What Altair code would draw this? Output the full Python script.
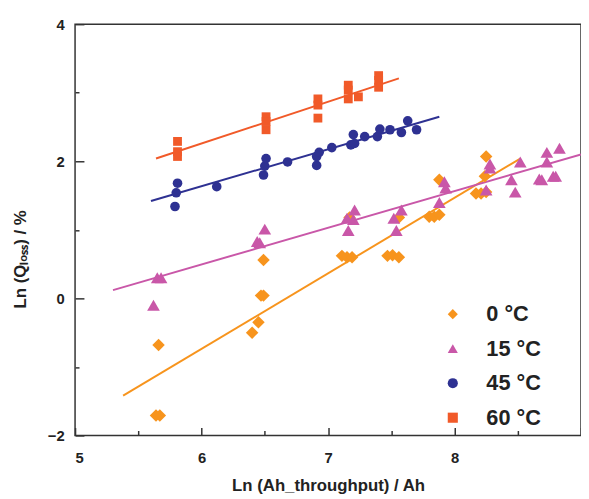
import altair as alt
import pandas as pd

series = ["0 °C", "15 °C", "45 °C", "60 °C"]
colors = ["#F7941D", "#C957A8", "#2E3192", "#F15A29"]
shapes = ["diamond", "triangle-up", "circle", "square"]
sizes = [160, 165, 95, 80]

x_0C = [5.64, 5.67, 5.66, 6.40, 6.45, 6.47, 6.49, 6.49, 7.11, 7.15, 7.19, 7.17,
        7.47, 7.51, 7.56, 7.56, 7.80, 7.84, 7.88, 7.88, 8.17, 8.21, 8.25, 8.24, 8.25]
y_0C = [-1.71, -1.71, -0.68, -0.50, -0.35, 0.04, 0.04, 0.56, 0.62, 0.60, 0.60, 1.18,
        0.62, 0.63, 0.60, 1.18, 1.19, 1.19, 1.22, 1.73, 1.53, 1.53, 1.55, 1.78, 2.07]

x_15C = [5.62, 5.65, 5.68, 6.44, 6.46, 6.50, 7.15, 7.16, 7.20, 7.21, 7.52, 7.54, 7.58,
         7.88, 7.92, 7.93, 8.25, 8.28, 8.28, 8.45, 8.48, 8.52, 8.67, 8.69, 8.73, 8.73,
         8.78, 8.80, 8.83]
y_15C = [-0.10, 0.30, 0.30, 0.83, 0.81, 1.01, 1.17, 0.99, 1.15, 1.29, 1.17, 0.99, 1.29,
         1.40, 1.70, 1.61, 1.58, 1.90, 1.96, 1.73, 1.55, 1.99, 1.74, 1.73, 1.99, 2.13,
         1.78, 1.78, 2.19]

x_45C = [5.79, 5.80, 5.81, 6.12, 6.49, 6.50, 6.51, 6.68, 6.91, 6.91, 6.93, 7.03, 7.18,
         7.20, 7.21, 7.29, 7.39, 7.41, 7.49, 7.58, 7.63, 7.70]
y_45C = [1.34, 1.54, 1.68, 1.63, 1.80, 1.93, 2.04, 1.99, 1.94, 2.07, 2.13, 2.20, 2.24,
         2.39, 2.26, 2.36, 2.36, 2.47, 2.46, 2.42, 2.59, 2.46]

x_60C = [5.81, 5.81, 5.81, 6.51, 6.51, 6.51, 6.92, 6.92, 6.92, 7.16, 7.16, 7.16, 7.24,
         7.40, 7.40, 7.40]
y_60C = [2.29, 2.14, 2.07, 2.65, 2.58, 2.46, 2.91, 2.82, 2.63, 3.11, 3.04, 2.91, 2.94,
         3.25, 3.18, 3.08]

fit_x0 = [5.38, 5.30, 5.60, 5.64]
fit_x1 = [8.52, 9.00, 7.88, 7.56]
fit_y0 = [-1.42, 0.12, 1.42, 2.04]
fit_y1 = [2.04, 2.10, 2.65, 3.21]

x_ticks_major = [5, 6, 7, 8]
x_ticks_all = [5, 5.5, 6, 6.5, 7, 7.5, 8, 8.5, 9]
y_ticks_major = [-2, 0, 2, 4]
y_ticks_all = [-2, -1, 0, 1, 2, 3, 4]

W, H = 513, 417

rows = []
for name, sz, xs, ys in zip(series, sizes, [x_0C, x_15C, x_45C, x_60C],
                            [y_0C, y_15C, y_45C, y_60C]):
    for xv, yv in zip(xs, ys):
        rows.append({"series": name, "x": xv, "y": yv, "sz": sz})
pts = pd.DataFrame(rows)

lrows = []
for name, a, b, c, d in zip(series, fit_x0, fit_x1, fit_y0, fit_y1):
    lrows.append({"series": name, "x": a, "y": c})
    lrows.append({"series": name, "x": b, "y": d})
lines = pd.DataFrame(lrows)

xscale = alt.Scale(domain=[5, 9], nice=False, zero=False)
yscale = alt.Scale(domain=[-2, 4], nice=False, zero=False)

leg = alt.Legend(orient="none", legendX=372, legendY=283, title=None,
                 labelFontSize=22, labelFontWeight="bold", labelColor="#222",
                 rowPadding=13, labelOffset=23, padding=0, symbolSize=105,
                 symbolStrokeWidth=0, symbolOpacity=1)
color_scale = alt.Scale(domain=series, range=colors)
color = alt.Color("series:N", scale=color_scale, legend=leg)
shape = alt.Shape("series:N", scale=alt.Scale(domain=series, range=shapes), legend=leg)

x_lab_axis = alt.Axis(orient="bottom", values=x_ticks_major, ticks=False, tickSize=0,
                      domain=False, grid=False, labelPadding=15, labelFontSize=15,
                      labelFontWeight="bold", labelColor="#222",
                      title="Ln (Ah_throughput) / Ah", titleFontSize=17,
                      titleFontWeight="bold", titleColor="#222",
                      titleY=56, titleBaseline="alphabetic")
y_lab_axis = alt.Axis(orient="left", values=y_ticks_major, ticks=False, tickSize=0,
                      domain=False, grid=False, labelPadding=11, labelFontSize=15,
                      labelFontWeight="bold", labelColor="#222",
                      title="Ln (Qₗₒₛₛ) / %", titleFontSize=17,
                      titleFontWeight="bold", titleColor="#222",
                      titleX=-46, titleY=238)
x_tick_axis = alt.Axis(orient="top", offset=-H, values=x_ticks_all, labels=False,
                       domain=False, grid=False, title=None, tickColor="#333",
                       tickWidth=1.5,
                       tickSize={"condition": {"test": "datum.value % 1 != 0", "value": 5},
                                 "value": 8})
y_tick_axis = alt.Axis(orient="right", offset=-W, values=y_ticks_all, labels=False,
                       domain=False, grid=False, title=None, tickColor="#333",
                       tickWidth=1.5,
                       tickSize={"condition": {"test": "datum.value % 2 != 0", "value": 4},
                                 "value": 9})

points = alt.Chart(pts).mark_point(filled=True, opacity=1).encode(
    x=alt.X("x:Q", scale=xscale, axis=x_lab_axis),
    y=alt.Y("y:Q", scale=yscale, axis=y_lab_axis),
    color=color,
    shape=shape,
    size=alt.Size("sz:Q", scale=None, legend=None),
)

fits = alt.Chart(lines).mark_line(strokeWidth=2).encode(
    x=alt.X("x:Q", scale=xscale, axis=x_tick_axis),
    y=alt.Y("y:Q", scale=yscale, axis=y_tick_axis),
    color=color,
    detail="series:N",
)

chart = alt.layer(fits, points).resolve_axis(x="independent", y="independent").properties(
    width=W, height=H,
    autosize=alt.AutoSizeParams(type="none"),
    padding={"left": 68, "top": 13, "right": 0, "bottom": 60},
).configure(font="Liberation Sans").configure_view(stroke="#333", strokeWidth=1.5)

chart.save("out.html", embed_options={"renderer": "svg", "actions": False})
